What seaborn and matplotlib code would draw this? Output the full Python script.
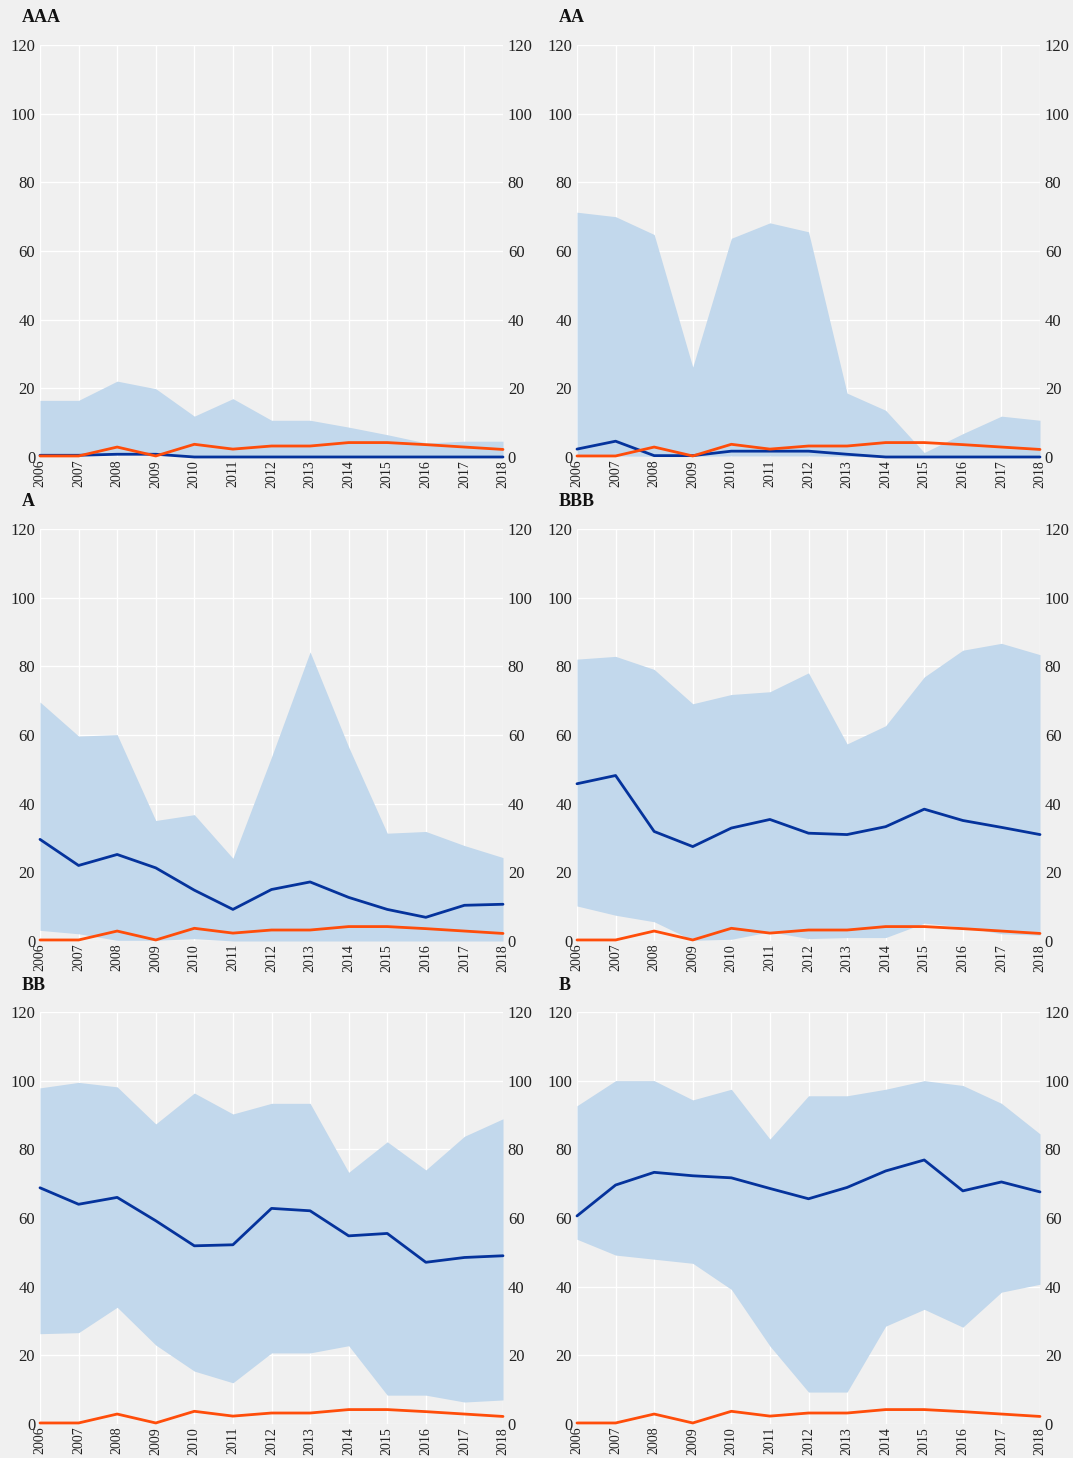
import matplotlib
matplotlib.use("Agg")
import matplotlib.pyplot as plt
import seaborn as sns
import pandas as pd

years = list(range(2006, 2019))

# Common reference series shown in every panel
reference = [0.3, 0.3, 2.9, 0.3, 3.7, 2.3, 3.2, 3.2, 4.2, 4.2, 3.6, 2.9, 2.2]

aaa_low = [0.5, 0.5, 0.8, 0.8, 0, 0, 0, 0, 0, 0, 0, 0, 0]
aaa_high = [16.5, 16.5, 22.1, 19.9, 11.9, 17.0, 10.7, 10.7, 8.7, 6.5, 4.1, 4.6, 4.6]
aaa_mid = [0.5, 0.5, 0.8, 0.8, 0, 0, 0, 0, 0, 0, 0, 0, 0]

aa_low = [0.3, 0.3, 0.2, 0.2, 0.3, 0.3, 0.3, 0.2, 0, 0, 0, 0, 0]
aa_high = [71.3, 70.0, 64.8, 26.2, 63.7, 68.2, 65.6, 18.6, 13.6, 1.3, 6.8, 11.9, 10.7]
aa_mid = [2.3, 4.6, 0.4, 0.4, 1.7, 1.7, 1.7, 0.8, 0, 0, 0, 0, 0]

a_low = [3.1, 2.1, 0.2, 0.2, 0.7, 0, 0, 0, 0, 0, 0, 0, 0]
a_high = [69.6, 59.7, 60.1, 35.1, 36.8, 24.1, 53.6, 84.2, 56.5, 31.4, 31.9, 27.8, 24.3]
a_mid = [29.6, 22.0, 25.2, 21.3, 14.8, 9.2, 15.0, 17.2, 12.7, 9.2, 6.9, 10.4, 10.7]

bbb_low = [10.2, 7.5, 5.6, 0.2, 0.5, 2.7, 0.7, 1.0, 1.0, 5.2, 4.1, 2.1, 1.7]
bbb_high = [82.1, 82.9, 79.1, 69.1, 71.8, 72.6, 78.1, 57.4, 62.7, 76.9, 84.7, 86.7, 83.4]
bbb_mid = [45.8, 48.2, 31.9, 27.5, 32.9, 35.4, 31.4, 31.0, 33.3, 38.4, 35.1, 33.1, 31.0]

bb_low = [26.3, 26.6, 34.0, 23.0, 15.4, 12.0, 20.7, 20.7, 22.8, 8.4, 8.4, 6.4, 7.0]
bb_high = [97.9, 99.5, 98.2, 87.4, 96.4, 90.3, 93.4, 93.4, 73.3, 82.2, 74.0, 83.8, 88.9]
bb_mid = [68.8, 64.0, 66.0, 59.2, 51.9, 52.2, 62.8, 62.1, 54.8, 55.5, 47.1, 48.5, 49.0]

b_low = [53.8, 49.2, 48.0, 46.8, 39.2, 22.7, 9.3, 9.3, 28.5, 33.4, 28.2, 38.4, 40.7]
b_high = [92.7, 100, 100, 94.4, 97.5, 83.0, 95.6, 95.6, 97.5, 100, 98.6, 93.4, 84.5]
b_mid = [60.6, 69.6, 73.3, 72.3, 71.7, 68.6, 65.6, 68.9, 73.7, 76.9, 67.9, 70.5, 67.6]

titles = ["AAA", "AA", "A", "BBB", "BB", "B"]
lows = [aaa_low, aa_low, a_low, bbb_low, bb_low, b_low]
highs = [aaa_high, aa_high, a_high, bbb_high, bb_high, b_high]
mids = [aaa_mid, aa_mid, a_mid, bbb_mid, bb_mid, b_mid]

BG = "#f0f0f0"
BAND = "#c2d8ec"
BLUE = "#05339c"
ORANGE = "#ff4d0a"

sns.set_theme(style="darkgrid", rc={
    "axes.facecolor": BG,
    "figure.facecolor": BG,
    "grid.color": "white",
    "grid.linewidth": 1.0,
    "axes.edgecolor": BG,
})
plt.rcParams["font.family"] = ["Liberation Serif", "DejaVu Serif"]

W, H = 1073, 1458
fig = plt.figure(figsize=(W / 100, H / 100), dpi=100)

col_x = [40, 577]
row_top = [45, 529, 1012]
aw, ah = 463, 412

for i, title in enumerate(titles):
    r, c = divmod(i, 2)
    left = col_x[c] / W
    bottom = 1 - (row_top[r] + ah) / H
    ax = fig.add_axes([left, bottom, aw / W, ah / H])

    df = pd.DataFrame({
        "year": years,
        "low": lows[i],
        "high": highs[i],
        "mid": mids[i],
        "ref": reference,
    })
    ax.fill_between(df["year"], df["low"], df["high"], color=BAND, lw=0, zorder=1)
    sns.lineplot(data=df, x="year", y="mid", ax=ax, color=BLUE, lw=2.0,
                 zorder=3, clip_on=False)
    sns.lineplot(data=df, x="year", y="ref", ax=ax, color=ORANGE, lw=2.0,
                 zorder=4, clip_on=False)

    ax.set_xlim(2006, 2018)
    ax.set_ylim(0, 120)
    ax.set_xticks(years)
    ax.set_xticklabels([str(y) for y in years], rotation=90, fontsize=10)
    ax.set_yticks(range(0, 121, 20))
    ax.tick_params(axis="y", labelsize=12, labelright=True, left=False,
                   right=False, length=0, pad=3.5, colors="#222222")
    ax.tick_params(axis="x", bottom=False, length=0, pad=2, colors="#222222")
    ax.set_xlabel("")
    ax.set_ylabel("")
    for s in ax.spines.values():
        s.set_visible(False)

    fig.text((col_x[c] - 18) / W, 1 - (row_top[r] - 27) / H, title,
             fontsize=13, fontweight="bold", ha="left", va="center",
             color="#111111")

fig.savefig("out.png", dpi=100, facecolor=BG)
